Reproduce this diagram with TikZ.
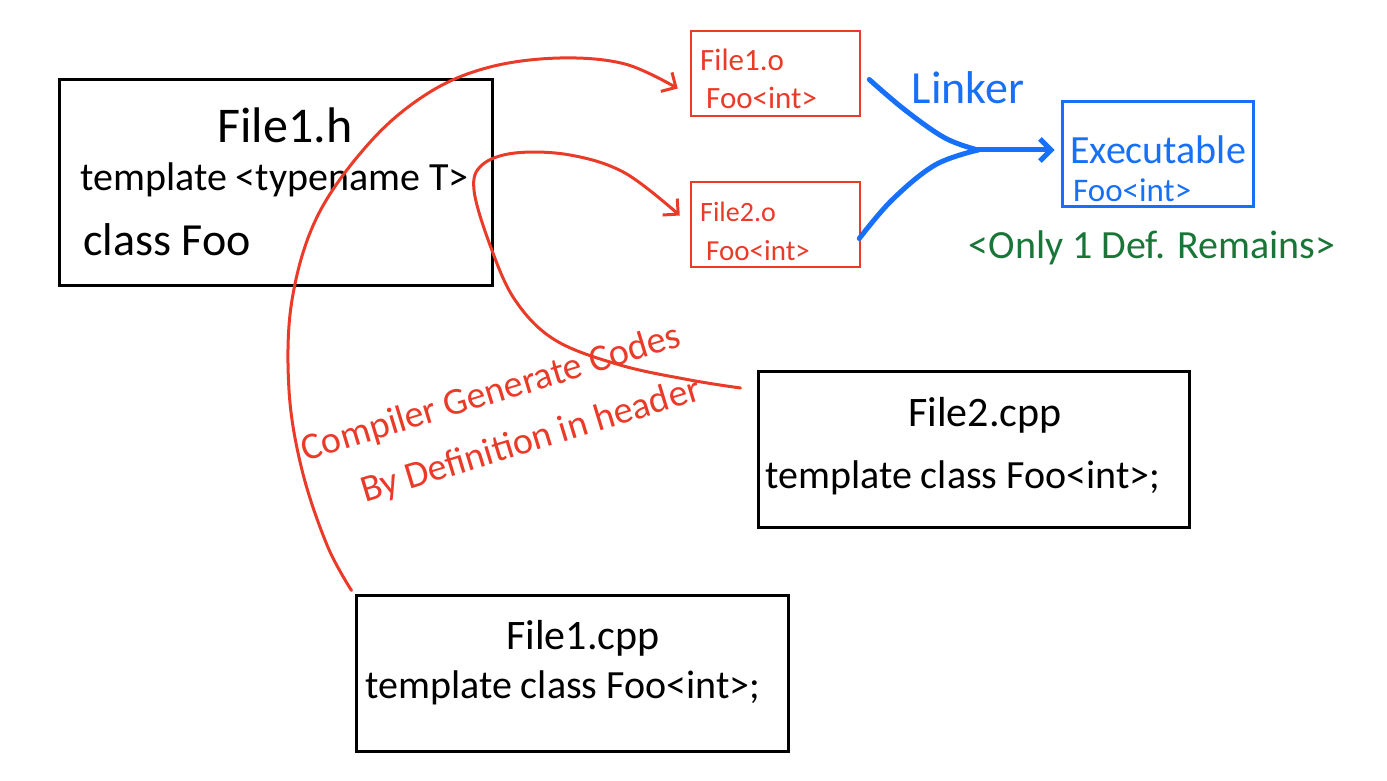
\documentclass[tikz,border=0pt]{standalone}
\usepackage{fontspec}
\setmainfont{Carlito}
\usetikzlibrary{arrows.meta,calc}

\definecolor{penred}{RGB}{234,58,40}
\definecolor{penblue}{RGB}{22,112,250}
\definecolor{pengreen}{RGB}{26,118,56}

\tikzset{>={Straight Barb[length=11pt,width=22pt]}}

\begin{document}
\begin{tikzpicture}[x=1pt,y=-1pt]

	\tikzstyle{box_black} = [rectangle, draw=black, line width=3pt]
	\tikzstyle{box_red} = [rectangle, draw=penred, line width=2.5pt]
	\tikzstyle{box_blue} = [rectangle, draw=penblue, line width=3pt]
	\tikzstyle{txt} = [inner sep=0pt]
	\tikzstyle{link_red} = [draw=penred, line width=3pt, line cap=round, line join=round]
	\tikzstyle{link_blue} = [draw=penblue, line width=5pt, line cap=round, line join=round]

	\useasboundingbox (0,0) rectangle (1387,781);

%------------------------------------------------------------
	\node[box_black, minimum width=433, minimum height=205] (h) at (275.5,182.5) {};
	\node[txt, font=\fontsize{50}{54}\selectfont] (h_name) at (285,125) {File1.h};
	\node[txt, anchor=west, font=\fontsize{40}{48}\selectfont] (h_tpl) at (80,180) {template <typename T>};
	\node[txt, anchor=west, font=\fontsize{46}{50}\selectfont] (h_cls) at (83,240) {class Foo};

%------------------------------------------------------------

	\node[box_red, minimum width=169, minimum height=85] (o1) at (775.5,73.5) {};
	\node[txt, anchor=west, text=penred, font=\fontsize{31}{34}\selectfont] (o1_name) at (700,60) {File1.o};
	\node[txt, anchor=west, text=penred, font=\fontsize{31}{34}\selectfont] (o1_foo) at (706,98) {Foo<int>};

	\node[box_red, minimum width=169, minimum height=85] (o2) at (775.5,224.5) {};
	\node[txt, anchor=west, text=penred, font=\fontsize{28}{32}\selectfont] (o2_name) at (700,212) {File2.o};
	\node[txt, anchor=west, text=penred, font=\fontsize{29}{32}\selectfont] (o2_foo) at (706,251) {Foo<int>};

%------------------------------------------------------------

	\node[box_blue, minimum width=191, minimum height=104] (exe) at (1157.5,154) {};
	\node[txt, anchor=west, text=penblue, font=\fontsize{40}{44}\selectfont] (exe_name) at (1070,150) {Executable};
	\node[txt, anchor=west, text=penblue, font=\fontsize{33}{36}\selectfont] (exe_foo) at (1073,190) {Foo<int>};

	\node[txt, text=penblue, font=\fontsize{46}{50}\selectfont] (linker) at (968,88) {Linker};
	\node[txt, text=pengreen, font=\fontsize{40}{44}\selectfont] (remain) at (1152,248) {<Only 1 Def. Remains>};

%------------------------------------------------------------

	\node[box_black, minimum width=431, minimum height=156] (cpp2) at (973.5,449) {};
	\node[txt, font=\fontsize{42}{48}\selectfont] (cpp2_name) at (985,415) {File2.cpp};
	\node[txt, anchor=west, font=\fontsize{40}{48}\selectfont] (cpp2_inst) at (765,478) {template class Foo<int>;};

	\node[box_black, minimum width=432, minimum height=156] (cpp1) at (572,673) {};
	\node[txt, font=\fontsize{42}{48}\selectfont] (cpp1_name) at (583,638) {File1.cpp};
	\node[txt, anchor=west, font=\fontsize{40}{48}\selectfont] (cpp1_inst) at (365,688) {template class Foo<int>;};

%------------------------------------------------------------

	\node[txt, anchor=base west, rotate=17, align=left, text=penred, font=\fontsize{38}{57}\selectfont] (note) at (322,516)
		{Compiler Generate Codes\\\hspace*{45pt}By Definition in header};

	\coordinate (c1) at ($(o1.west)+(-12,15)$);
	\coordinate (c2) at ($(o2.west)+(-10,-9)$);
	\coordinate (c2s) at ($(cpp2.west)+(-16,-61)$);
	\coordinate (merge) at (978,150);

	\draw[link_red, ->] plot[smooth, tension=0.6] coordinates {
		($(cpp1.north west)+(-3,-3)$) (327,545) (302,470) (289,390) (292,300) (318,215)
		(372,140) (430,92) (490,67) (560,58) (625,64) (c1)};
	\draw[link_red, ->] plot[smooth, tension=0.6] coordinates {
		(c2s) (690,380) (620,365) (555,340) (515,300) (490,245) (474,190) (482,165)
		(515,153) (570,155) (625,173) (c2)};

	\draw[link_blue] plot[smooth, tension=0.6] coordinates {
		($(o1.east)+(8,6)$) (905,110) (945,138) (merge)};
	\draw[link_blue] plot[smooth, tension=0.6] coordinates {
		($(o2.east)+(-2,14)$) (892,200) (935,165) (merge)};
	\draw[link_blue, ->] (merge) -- ($(exe.west)+(-6,-4)$);

\end{tikzpicture}
\end{document}
